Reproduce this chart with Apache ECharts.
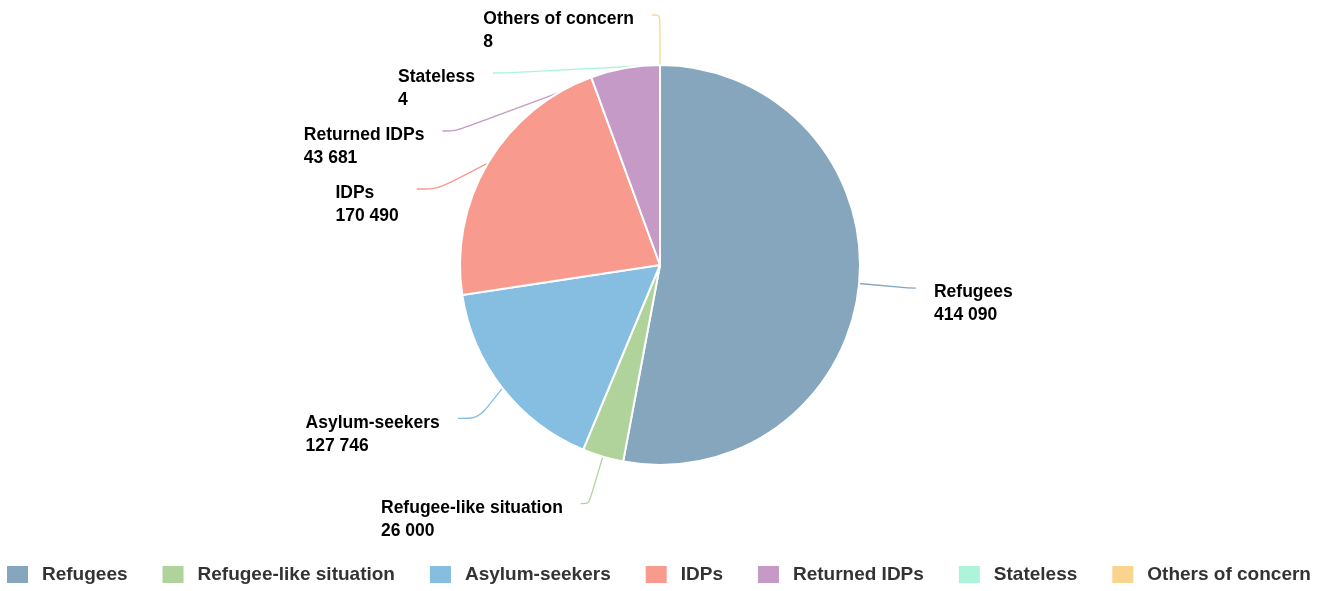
<!DOCTYPE html>
<html><head><meta charset="utf-8">
<script src="https://cdn.jsdelivr.net/npm/echarts@6/dist/echarts.min.js"></script>
<style>html,body{margin:0;padding:0;background:#fff}#c{width:1330px;height:591px}</style>
</head><body><div id="c"></div>
<script>
const categories = ["Refugees","Refugee-like situation","Asylum-seekers","IDPs","Returned IDPs","Stateless","Others of concern"];
const values = [414090, 26000, 127746, 170490, 43681, 4, 8];
const colors = ["#85a6bd","#b0d39c","#85bee0","#f99a8f","#c59ac6","#acf5da","#f8d48e"];

function fmt(v){return String(v).replace(/\B(?=(\d{3})+(?!\d))/g,' ');}
const CX = 660, CY = 265;
const chart = echarts.init(document.getElementById('c'));
chart.setOption({
  animation:false,
  color:colors,
  legend:{
    bottom:1, left:0, itemWidth:23, itemHeight:19, itemGap:33,
    icon:'rect',
    textStyle:{fontFamily:'Liberation Sans, Arial', fontWeight:'bold', fontSize:19, color:'#333', padding:[0,0,0,8]},
    data:categories
  },
  series:[{
    type:'pie',
    center:[CX,CY], radius:[0,200], startAngle:90, clockwise:true,
    avoidLabelOverlap:true,
    itemStyle:{borderColor:'#fff', borderWidth:2},
    label:{
      formatter:p=>p.name+'\n'+fmt(p.value),
      fontFamily:'Liberation Sans, Arial', fontWeight:'bold', fontSize:17.5, color:'#000', lineHeight:23,
      padding:[10,0,0,0], distanceToLabelLine:18
    },
    labelLine:{length:49,length2:8,smooth:0.3,lineStyle:{width:1.3}},
    labelLayout:function(p){
      const r=p.labelRect;
      let dx=0, dy=0, pts=p.labelLinePoints;
      if (pts) {
        pts = pts.map(q=>q.slice());
        const end = pts[pts.length-1];
        if (end[0] < CX && end[1] < CY+200) {
          if (end[0] < CX-30) dx = -13;
          if (end[1] < CY) dy = -14;
          end[0] += dx; end[1] += dy;
          pts[1][1] += dy;
        }
      }
      return {x:r.x+dx, y:r.y+r.height/2+16+dy, align:'left', verticalAlign:'middle', labelLinePoints:pts};
    },
    data:categories.map((c,i)=>({name:c,value:values[i]}))
  }]
});
</script></body></html>
